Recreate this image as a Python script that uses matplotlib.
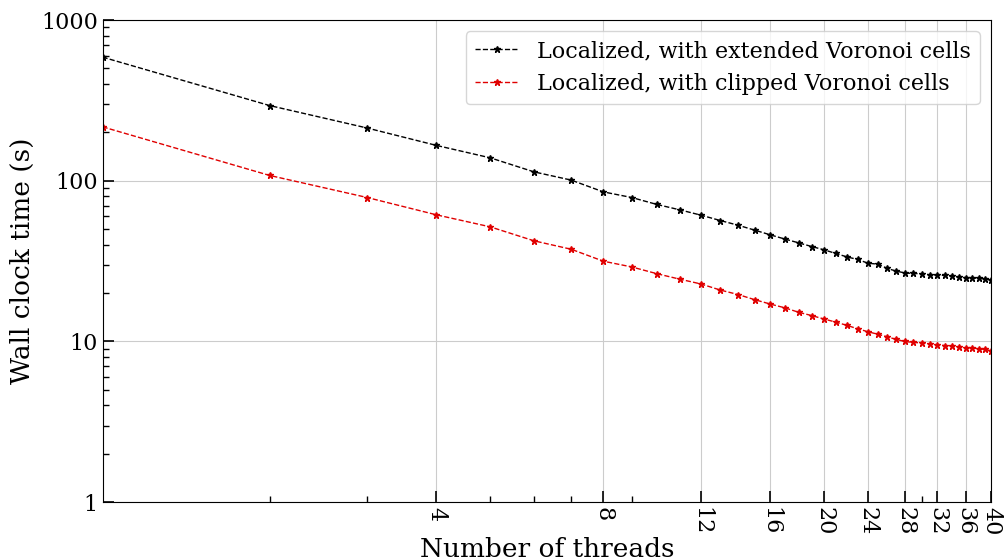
import numpy as np
import matplotlib
matplotlib.use("Agg")
import matplotlib.pyplot as plt
from matplotlib.ticker import FixedLocator, LogLocator, NullFormatter, FuncFormatter

plt.rcParams['font.family'] = 'DejaVu Serif'

threads = np.arange(1, 41)

# wall clock time (s)
extended = [588, 294, 213, 166, 139, 113.6, 101, 85.3, 78.7, 71.2,
            65.9, 61.1, 56.6, 52.9, 49.3, 46.1, 43.4, 41.1, 39.0, 37.2,
            35.3, 33.6, 32.4, 30.7, 30.3, 28.5, 27.4, 26.7, 26.5, 26.4,
            26.0, 25.8, 25.8, 25.5, 25.1, 25.0, 24.9, 24.7, 24.6, 24.1]
clipped = [216.6, 108, 78.7, 61.4, 51.7, 42.3, 37.5, 31.6, 29.1, 26.4,
           24.4, 22.8, 20.9, 19.6, 18.2, 17.1, 16.2, 15.2, 14.5, 13.8,
           13.2, 12.6, 12.0, 11.5, 11.1, 10.7, 10.3, 10.0, 9.86, 9.80,
           9.66, 9.53, 9.44, 9.35, 9.25, 9.12, 9.08, 9.04, 8.92, 8.75]

xticks = [4, 8, 12, 16, 20, 24, 28, 32, 36, 40]

fig, ax = plt.subplots(figsize=(10.06, 5.58), dpi=100)
fig.subplots_adjust(left=0.102, right=0.985, top=0.964, bottom=0.1)

ax.plot(threads, extended, 'k*--', lw=1, ms=4.5,
        label="Localized, with extended Voronoi cells")
ax.plot(threads, clipped, '*--', color='#e00000', lw=1, ms=4.5,
        label="Localized, with clipped Voronoi cells")

ax.set_xscale('log')
ax.set_yscale('log')
ax.set_xlim(1, 40)
ax.set_ylim(1, 1000)

ax.xaxis.set_major_locator(FixedLocator(xticks))
ax.xaxis.set_major_formatter(FuncFormatter(lambda v, p: f"{int(round(v))}"))
ax.xaxis.set_minor_locator(LogLocator(base=10, subs=range(2, 10)))
ax.xaxis.set_minor_formatter(NullFormatter())
ax.yaxis.set_major_formatter(FuncFormatter(lambda v, p: f"{int(round(v))}"))
ax.yaxis.set_minor_formatter(NullFormatter())

ax.tick_params(which='both', direction='in', labelsize=16)
ax.tick_params(which='major', length=8, width=1.2)
ax.tick_params(which='minor', length=4, width=1)
for lab in ax.get_xticklabels():
    lab.set_rotation(270)

ax.grid(True, which='major', color='#cccccc', lw=0.8)

ax.set_xlabel("Number of threads", fontsize=19, labelpad=1)
ax.set_ylabel("Wall clock time (s)", fontsize=19)
ax.legend(loc='upper right', fontsize=16)

fig.savefig("out.png", dpi=100)
